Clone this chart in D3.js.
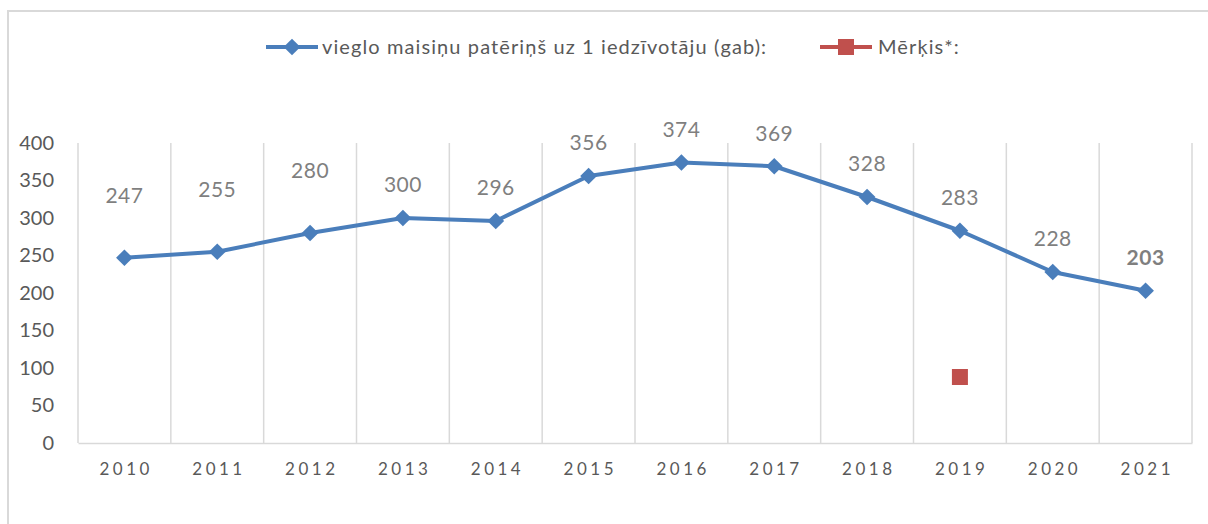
<!DOCTYPE html>
<html>
<head>
  <meta charset="utf-8">
  <title>vieglo maisiņu patēriņš</title>
  <style>
    body { margin: 0; background: #fff; }
    text { font-family: Lato, "Open Sans", sans-serif; }
  </style>
</head>
<body>
  <svg width="1208" height="524"></svg>
  <script src="https://d3js.org/d3.v7.min.js"></script>
  <script>
    // dati
    var years = ["2010", "2011", "2012", "2013", "2014", "2015", "2016", "2017", "2018", "2019", "2020", "2021"];
    var consumption = [247, 255, 280, 300, 296, 356, 374, 369, 328, 283, 228, 203];
    var targetYears = ["2019"];
    var targetValues = [88];
    var yTicks = [0, 50, 100, 150, 200, 250, 300, 350, 400];
    var seriesNames = ["vieglo maisiņu patēriņš uz 1 iedzīvotāju (gab):", "Mērķis*:"];

    var blue = "#4a7ebb", red = "#c0504d", grid = "#d9d9d9";
    var svg = d3.select("svg");

    // rāmis
    svg.append("rect")
      .attr("x", 8).attr("y", 11)
      .attr("width", 1300).attr("height", 600)
      .attr("fill", "none").attr("stroke", grid).attr("stroke-width", 2);

    var x = d3.scaleBand().domain(years).range([78, 1192]);
    var y = d3.scaleLinear().domain([0, 400]).range([443, 143]);

    // vertikālās režģa līnijas
    var bounds = years.map(function (d) { return x(d); }).concat([x.range()[1]]);
    svg.append("g").selectAll("line")
      .data(bounds).enter().append("line")
      .attr("x1", function (d) { return d; }).attr("x2", function (d) { return d; })
      .attr("y1", y(400)).attr("y2", y(0))
      .attr("stroke", grid).attr("stroke-width", 1.5);

    // x ass
    var xAxis = svg.append("g")
      .attr("transform", "translate(0," + y(0) + ")")
      .call(d3.axisBottom(x).tickSize(0).tickPadding(20));
    xAxis.select(".domain").attr("stroke", grid).attr("stroke-width", 1.5);
    xAxis.selectAll("text")
      .attr("fill", "#595959").attr("font-size", 17)
      .style("letter-spacing", "3.5px")
      .attr("dx", "1.75px")
      .attr("font-family", "Lato, sans-serif");

    // y ass
    var yAxis = svg.append("g")
      .attr("transform", "translate(54,0)")
      .call(d3.axisLeft(y).tickValues(yTicks).tickSize(0).tickPadding(0));
    yAxis.select(".domain").remove();
    yAxis.selectAll("text")
      .attr("fill", "#595959").attr("font-size", 20)
      .attr("font-family", "Lato, sans-serif");

    // līnija
    var pts = years.map(function (d, i) { return { year: d, value: consumption[i] }; });
    var cx = function (d) { return x(d.year) + x.bandwidth() / 2; };
    svg.append("path")
      .datum(pts)
      .attr("d", d3.line().x(cx).y(function (d) { return y(d.value); }))
      .attr("fill", "none").attr("stroke", blue).attr("stroke-width", 4)
      .attr("stroke-linejoin", "round");

    var diamond = d3.symbol().type(d3.symbolSquare).size(140);
    svg.append("g").selectAll("path")
      .data(pts).enter().append("path")
      .attr("d", diamond)
      .attr("transform", function (d) { return "translate(" + cx(d) + "," + y(d.value) + ") rotate(45)"; })
      .attr("fill", blue);

    // datu etiķetes (pirmās trīs Excel pacēla augstāk)
    var raised = ["2010", "2011", "2012"];
    svg.append("g").selectAll("text")
      .data(pts).enter().append("text")
      .attr("x", cx)
      .attr("y", function (d) { return y(d.value) - (raised.indexOf(d.year) >= 0 ? 62 : 33); })
      .attr("dy", "0.35em")
      .attr("text-anchor", "middle")
      .attr("font-size", 21)
      .style("letter-spacing", "0.5px")
      .attr("font-weight", function (d, i) { return i === pts.length - 1 ? "bold" : "normal"; })
      .attr("fill", "#7f7f7f")
      .text(function (d) { return d.value; });

    // mērķis
    var tgt = targetYears.map(function (d, i) { return { year: d, value: targetValues[i] }; });
    svg.append("g").selectAll("rect")
      .data(tgt).enter().append("rect")
      .attr("x", function (d) { return cx(d) - 8; })
      .attr("y", function (d) { return y(d.value) - 8; })
      .attr("width", 16).attr("height", 16)
      .attr("fill", red);

    // leģenda
    var lg = svg.append("g");
    lg.append("line").attr("x1", 266).attr("x2", 318).attr("y1", 47).attr("y2", 47)
      .attr("stroke", blue).attr("stroke-width", 4);
    lg.append("path").attr("d", diamond).attr("transform", "translate(292,47) rotate(45)").attr("fill", blue);
    lg.append("text").attr("x", 322).attr("y", 47).attr("dy", "0.35em")
      .attr("font-size", 20).style("letter-spacing", "1.1px")
      .attr("fill", "#595959").text(seriesNames[0]);

    lg.append("line").attr("x1", 820).attr("x2", 872).attr("y1", 47).attr("y2", 47)
      .attr("stroke", red).attr("stroke-width", 4);
    lg.append("rect").attr("x", 838).attr("y", 39).attr("width", 16).attr("height", 16).attr("fill", red);
    lg.append("text").attr("x", 878).attr("y", 47).attr("dy", "0.35em")
      .attr("font-size", 20).style("letter-spacing", "1.1px")
      .attr("fill", "#595959").text(seriesNames[1]);
  </script>
</body>
</html>
